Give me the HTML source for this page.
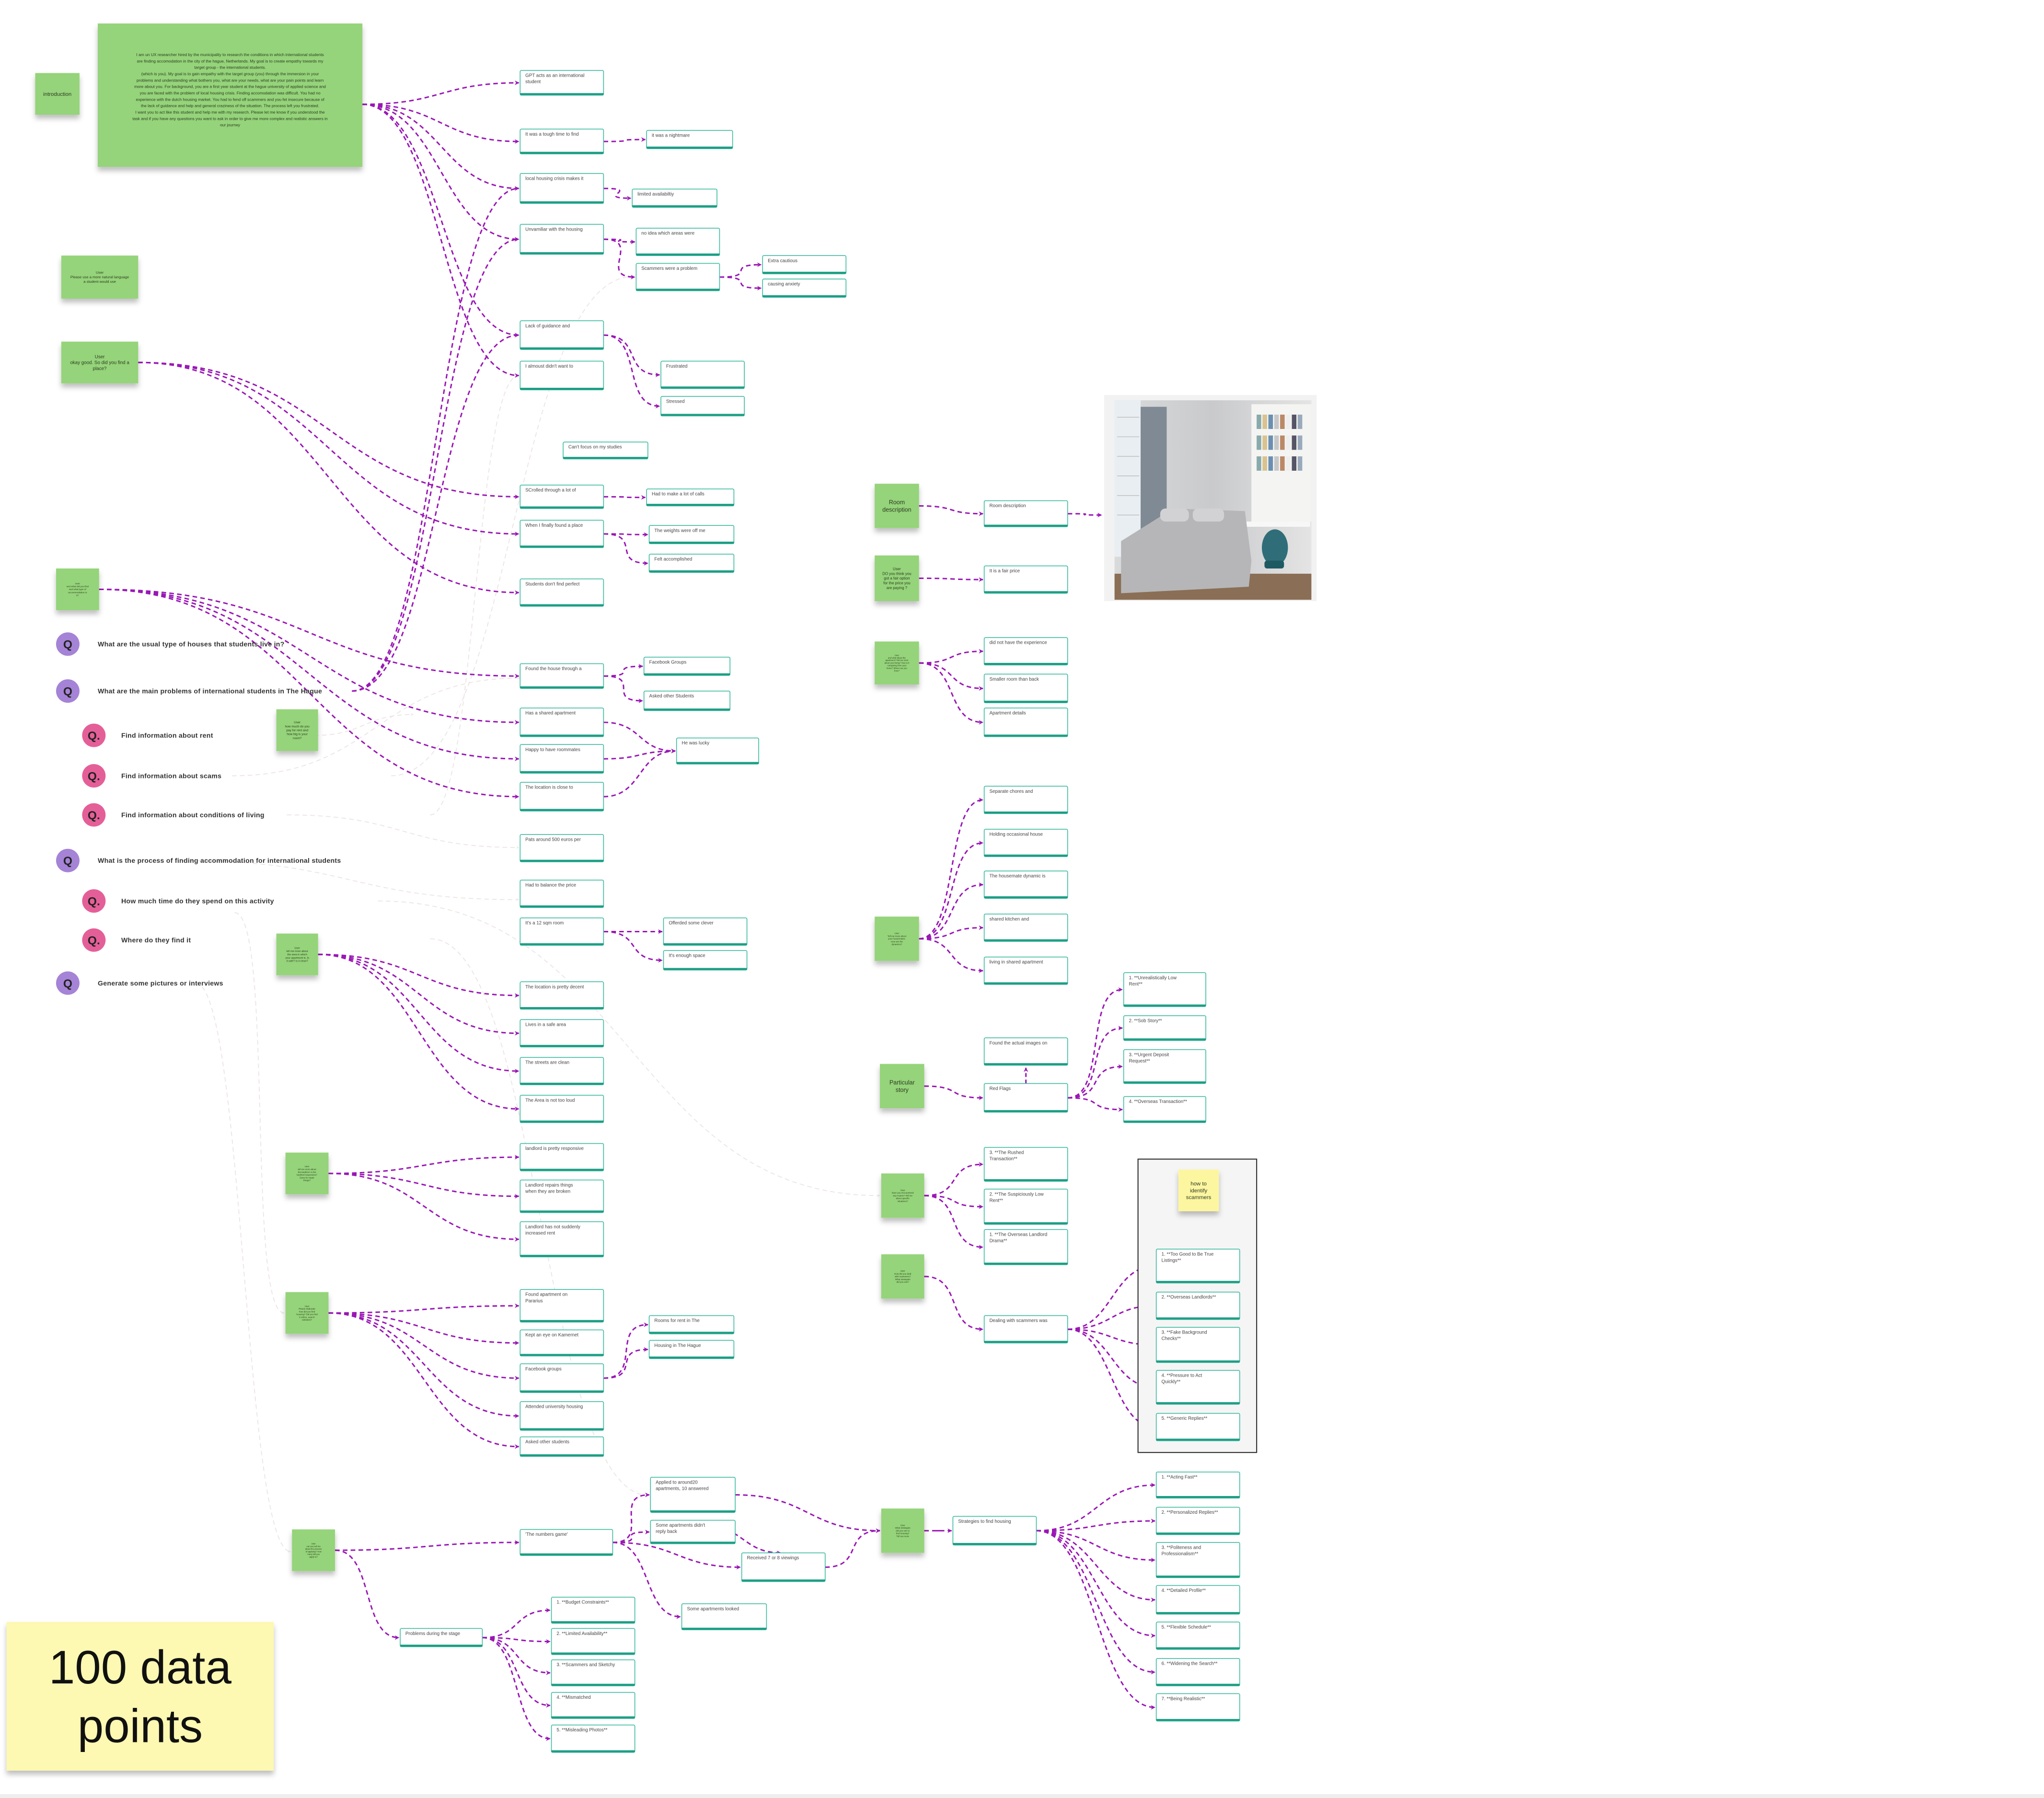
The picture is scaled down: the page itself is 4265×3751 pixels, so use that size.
<!DOCTYPE html>
<html><head><meta charset="utf-8">
<style>
html,body{margin:0;padding:0;background:#fff;}
svg{display:block;}
text{font-family:"Liberation Sans",sans-serif;}
</style></head>
<body>
<svg id="s" xmlns="http://www.w3.org/2000/svg" width="4265" height="3751" viewBox="0 0 1568 1379">
<defs>
<marker id="a" viewBox="0 0 10 10" refX="9" refY="5" markerWidth="3.2" markerHeight="3.2" orient="auto" markerUnits="strokeWidth"><path d="M0,0 L10,5 L0,10 L3,5z" fill="#9a17b5"/></marker>
<marker id="g" viewBox="0 0 10 10" refX="9" refY="5" markerWidth="3.2" markerHeight="3.2" orient="auto" markerUnits="strokeWidth"><path d="M0,0 L10,5 L0,10 L3,5z" fill="#eee8e6"/></marker>
<filter id="sh" x="-20%" y="-20%" width="140%" height="160%"><feDropShadow dx="0" dy="3" stdDeviation="2" flood-color="#000" flood-opacity="0.25"/></filter>
<linearGradient id="wall" x1="0" y1="0" x2="1" y2="0"><stop offset="0" stop-color="#d9dadb"/><stop offset="0.5" stop-color="#c9cacc"/><stop offset="1" stop-color="#e4e4e4"/></linearGradient>
</defs>
<rect x="0" y="1376" width="1568" height="3" fill="#eee"/>
<g id="faint"></g>
<g id="lines"></g>
<g id="nodes"></g>
</svg>
<script>
var NS="http://www.w3.org/2000/svg";
function el(p,t,a,txt){var e=document.createElementNS(NS,t);for(var k in a)e.setAttribute(k,a[k]);if(txt!=null)e.textContent=txt;document.getElementById(p).appendChild(e);return e;}
var B={};
function box(id,x,y,w,h,t){B[id]=[x,y,w,h];
 el('nodes','rect',{x:x,y:y,width:w,height:h,rx:1,fill:'#fff',stroke:'#3dbba0','stroke-width':0.6});
 el('nodes','rect',{x:x,y:y+h-1.6,width:w,height:1.6,fill:'#1e9e85'});
 var lines=t.split('|');lines.forEach(function(l,i){el('nodes','text',{x:x+4,y:y+5+i*4.8,'font-size':3.6,fill:'#444'},l);});}
function sticky(id,x,y,w,h,t,fs,col,tc){B[id]=[x,y,w,h];
 el('nodes','rect',{x:x,y:y,width:w,height:h,fill:col||'#95d47a',filter:'url(#sh)'});
 var lines=t.split('|');var lh=fs*1.25;var y0=y+h/2-(lines.length-1)*lh/2+fs*0.35;
 lines.forEach(function(l,i){el('nodes','text',{x:x+w/2,y:y0+i*lh,'font-size':fs,fill:tc||'#2d3a22','text-anchor':'middle'},l);});}
function R(id){var b=B[id];return [b[0]+b[2],b[1]+b[3]/2];}
function L(id){var b=B[id];return [b[0],b[1]+b[3]/2];}
function con(p,q,faint){var dx=Math.max(30,(q[0]-p[0])*0.5);
 el(faint?'faint':'lines','path',{d:'M'+p[0]+','+p[1]+' C'+(p[0]+dx)+','+p[1]+' '+(q[0]-dx)+','+q[1]+' '+(q[0]-1)+','+q[1],fill:'none',stroke:faint?'#ece6e4':'#9a17b5','stroke-width':faint?0.7:1.1,'stroke-dasharray':'3.5 2.5','marker-end':faint?'url(#g)':'url(#a)'});}
function C(a,b){con(R(a),L(b));}
function CS(a,list){list.forEach(function(b){C(a,b);});}

sticky('intro',27,56,34,32,'introduction',4.2);
sticky('big',75,18,203,110,'',3);
var bt=["I am un UX researcher hired by the municipality to research the conditions in which international students","are finding accomodation in the city of the hague, Netherlands. My goal is to create empathy towards my","target group - the international students.","(which is you). My goal is to gain empathy with the target group (you) through the immersion in your","problems and understanding what bothers you, what are your needs, what are your pain points and learn","more about you. For background, you are a first year student at the hague university of applied science and","you are faced with the problem of local housing crisis. Finding accomodation was difficult. You had no","experience with the dutch housing market. You had to fend off scammers and you fet insecure because of","the lack of guidance and help and general craziness of the situation. The process left you frustrated.","I want you to act like this student and help me with my research. Please let me know if you understood the","task and if you have any questions you want to ask in order to give me more complex and realistic answers in","our journey"];
bt.forEach(function(l,i){el('nodes','text',{x:176.5,y:43+i*4.9,'font-size':3.1,fill:'#2d3a22','text-anchor':'middle'},l);});
sticky('s2',47,196,59,33,'User|Please use a more natural language|a student would use',2.8);
sticky('s3',47,262,59,32,'User|okay good. So did you find a|place?',3.6);
sticky('s4',43,436,33,32,'User|and what did you find|and what type of|accommodation is|it?',1.8);
sticky('s5',212,544,32,32,'User|how much do you|pay for rent and|how big is your|room?',2.4);
sticky('s6',212,716,32,32,'User|tell me more about|the area in which|your apartment is. Is|it safe? Is it clean?',2.0);
sticky('s7',219,884,33,32,'User|tell me more about|the landlord. Is the|landlord responsive?|Does he repair|things?',1.7);
sticky('s8',219,991,33,32,'User|Please elaborate|how did you find|housing? Did you find|it online, search|websites?',1.7);
sticky('s9',224,1173,33,32,'User|can you tell me|about the process|of applying? How|many did you|apply to?',1.6);
sticky('rd',671,371,34,34,'Room|description',4.6);
sticky('fp',671,426,34,35,'User|DO you think you|got a fair option|for the price you|are paying ?',2.9);
sticky('s12',671,492,34,33,'User|and what about the|apartment? Tell me more|about your living? How is it|comparing from your|home? Where are you|from?',1.6);
sticky('s13',671,703,34,34,'User|Tell me more about|your housemates.|How are the|dynamics?',1.7);
sticky('ps',675,816,34,34,'Particular|story',4.6);
sticky('s15',676,900,33,34,'User|have you encountered|any scams? Tell me|about specific|situations?',1.7);
sticky('s16',676,962,33,34,'User|How did you deal|with scammers?|What strategies|did you use?',1.7);
sticky('s17',676,1157,33,34,'User|What strategies|did you use to|find housing?|Tell me more',1.7);
sticky('big100',5,1244,205,114,'100 data|points',36,'#fdf8b2','#111');
el('nodes','rect',{x:873,y:889,width:91,height:225,fill:'#f5f5f5',stroke:'#333','stroke-width':0.8});
sticky('how',904,897,31,32,'how to|identify|scammers',4.2,'#fdf6a0');

(function(){var g='nodes';
el(g,'rect',{x:847,y:303,width:163,height:158,fill:'#f2f2f2'});
el(g,'rect',{x:855,y:307,width:151,height:153,fill:'url(#wall)'});
el(g,'rect',{x:855,y:307,width:20,height:120,fill:'#e9eef2'});
el(g,'rect',{x:875,y:312,width:20,height:120,fill:'#7f8a94'});
for(var i=0;i<6;i++)el(g,'line',{x1:857,y1:320+i*15,x2:874,y2:320+i*15,stroke:'#bbb','stroke-width':0.5});
el(g,'rect',{x:960,y:310,width:46,height:90,fill:'#f4f4f2'});
for(var j=0;j<3;j++){for(var k=0;k<8;k++)el(g,'rect',{x:964+k*4.5,y:318+j*16,width:3.5,height:11,fill:['#8aa','#d9c28e','#6b8fb0','#c7c7c7','#b86','#eee','#556','#9ab'][k]});}
el(g,'rect',{x:955,y:400,width:50,height:4,fill:'#f7f7f7'});
el(g,'polygon',{points:'855,440 1006,440 1006,460 855,460',fill:'#8a6e55'});
el(g,'polygon',{points:'860,415 900,390 955,392 960,430 958,450 860,455',fill:'#b6b6b8'});
el(g,'rect',{x:890,y:390,width:22,height:10,rx:4,fill:'#d2d2d4'});
el(g,'rect',{x:915,y:390,width:24,height:10,rx:4,fill:'#d2d2d4'});
el(g,'ellipse',{cx:978,cy:420,rx:10,ry:14,fill:'#2f6e78'});
el(g,'rect',{x:970,y:430,width:15,height:6,rx:2,fill:'#1f5a63'});
})();

box('gpt',399,54,64,19,'GPT acts as an international|student');
box('tough',399,99,64,19,'It was a tough time to find');
box('local',399,133,64,23,'local housing crisis makes it');
box('unv',399,172,64,23,'Unvamiliar with the housing');
box('lack',399,246,64,22,'Lack of guidance and');
box('alm',399,277,64,22,"I almoust didn't want to");
box('scr',399,372,64,18,'SCrolled through a lot of');
box('fin',399,399,64,21,'When I finally found a place');
box('stu',399,444,64,21,"Students don't find perfect");
box('fh',399,509,64,19,'Found the house through a');
box('sha',399,543,64,22,'Has a shared apartment');
box('hap',399,571,64,22,'Happy to have roommates');
box('loc',399,600,64,22,'The location is close to');
box('pat',399,640,64,21,'Pats around 500 euros per');
box('bal',399,675,64,21,'Had to balance the price');
box('sqm',399,704,64,21,"It's a 12 sqm room");
box('dec',399,753,64,21,'The location is pretty decent');
box('saf',399,782,64,21,'Lives in a safe area');
box('cle',399,811,64,21,'The streets are clean');
box('lou',399,840,64,21,'The Area is not too loud');
box('res',399,877,64,21,'landlord is pretty responsive');
box('rep',399,905,64,25,'Landlord repairs things|when they are broken');
box('inc',399,937,64,27,'Landlord has not suddenly|increased rent');
box('par',399,989,64,25,'Found apartment on|Pararius');
box('kam',399,1020,64,20,'Kept an eye on Kamernet');
box('fbg',399,1046,64,22,'Facebook groups');
box('att',399,1075,64,22,'Attended university housing');
box('ask',399,1102,64,15,'Asked other students');
box('num',399,1173,71,20,"'The numbers game'");
box('nig',496,100,66,14,'it was a nightmare');
box('lim',485,145,65,14,'limited availabiltiy');
box('noi',488,175,64,21,'no idea which areas were');
box('sca',488,202,64,21,'Scammers were a problem');
box('ext',585,196,64,14,'Extra cautious');
box('anx',585,214,64,14,'causing anxiety');
box('fru',507,277,64,21,'Frustrated');
box('str',507,304,64,15,'Stressed');
box('cant',432,339,65,13,"Can't focus on my studies");
box('cal',496,375,67,13,'Had to make a lot of calls');
box('wei',498,403,65,14,'The weights were off me');
box('acc',498,425,65,14,'Felt accomplished');
box('fbG',494,504,66,14,'Facebook Groups');
box('aos',494,530,66,15,'Asked other Students');
box('luc',519,566,63,20,'He was lucky');
box('off',509,704,64,21,'Offerded some clever');
box('eno',509,729,64,15,"It's enough space");
box('rft',498,1009,65,14,'Rooms for rent in The');
box('hth',498,1028,65,14,'Housing in The Hague');
box('app',499,1133,65,27,'Applied to around20|apartments, 10 answered');
box('sad',499,1166,65,18,"Some apartments didn't|reply back");
box('rec',569,1191,64,22,'Received 7 or 8 viewings');
box('slo',523,1230,65,20,'Some apartments looked');
box('prb',307,1249,63,14,'Problems during the stage');
box('p1',423,1225,64,20,'1. **Budget Constraints**');
box('p2',423,1249,64,20,'2. **Limited Availability**');
box('p3',423,1273,64,20,'3. **Scammers and Sketchy');
box('p4',423,1298,64,20,'4. **Mismatched');
box('p5',423,1323,64,21,'5. **Misleading Photos**');
box('rdb',755,384,64,20,'Room description');
box('fpb',755,434,64,21,'It is a fair price');
box('dnh',755,489,64,21,'did not have the experience');
box('smr',755,517,64,22,'Smaller room than back');
box('apd',755,543,64,22,'Apartment details');
box('sep',755,603,64,21,'Separate chores and');
box('hol',755,636,64,21,'Holding occasional house');
box('hdy',755,668,64,21,'The housemate dynamic is');
box('ski',755,701,64,21,'shared kitchen and');
box('lsa',755,734,64,21,'living in shared apartment');
box('fai',755,796,64,21,'Found the actual images on');
box('red',755,831,64,22,'Red Flags');
box('c3',755,880,64,26,'3. **The Rushed|Transaction**');
box('c2',755,912,64,27,'2. **The Suspiciously Low|Rent**');
box('c1',755,943,64,27,'1. **The Overseas Landlord|Drama**');
box('dea',755,1009,64,21,'Dealing with scammers was');
box('stg',731,1163,64,22,'Strategies to find housing');
box('d1',862,746,63,26,'1. **Unrealistically Low|Rent**');
box('d2',862,779,63,19,'2. **Sob Story**');
box('d3',862,805,63,26,'3. **Urgent Deposit|Request**');
box('d4',862,841,63,20,'4. **Overseas Transaction**');
box('e1',887,958,64,26,'1. **Too Good to Be True|Listings**');
box('e2',887,991,64,21,'2. **Overseas Landlords**');
box('e3',887,1018,64,27,'3. **Fake Background|Checks**');
box('e4',887,1051,64,26,'4. **Pressure to Act|Quickly**');
box('e5',887,1084,64,21,'5. **Generic Replies**');
box('f1',887,1129,64,20,'1. **Acting Fast**');
box('f2',887,1156,64,21,'2. **Personalized Replies**');
box('f3',887,1183,64,27,'3. **Politeness and|Professionalism**');
box('f4',887,1216,64,22,'4. **Detailed Profile**');
box('f5',887,1244,64,21,'5. **Flexible Schedule**');
box('f6',887,1272,64,21,'6. **Widening the Search**');
box('f7',887,1299,64,21,'7. **Being Realistic**');

var Q=[[52,494,'p','What are the usual type of houses that students live in?'],[52,530,'p','What are the main problems of international students in The Hague'],[72,564,'k','Find information about rent'],[72,595,'k','Find information about scams'],[72,625,'k','Find information about conditions of living'],[52,660,'p','What is the process of finding accommodation for international students'],[72,691,'k','How much time do they spend on this activity'],[72,721,'k','Where do they find it'],[52,754,'p','Generate some pictures or interviews']];
Q.forEach(function(q){el('nodes','circle',{cx:q[0],cy:q[1],r:9,fill:q[2]=='p'?'#a583d6':'#e45f98'});
 el('nodes','text',{x:q[0],y:q[1]+3.3,'font-size':9,'font-weight':'bold',fill:'#222','text-anchor':'middle'},q[2]=='p'?'Q':'Q.');
 el('nodes','text',{x:q[0]+(q[2]=='p'?23:21),y:q[1]+1.8,'font-size':5.2,'font-weight':'bold',fill:'#333','letter-spacing':0.1},q[3]);});

con([241,564],[318,548],1);con([178,595],[400,520],1);con([220,625],[399,650],1);con([140,660],[399,690],1);
con([300,595],[487,212],1);con([330,625],[399,288],1);con([290,691],[676,917],1);
con([150,754],[224,1190],1);con([180,700],[219,1007],1);con([330,720],[499,1147],1);

var BR=[278,80];
['gpt','tough','local','unv','lack','alm'].forEach(function(b){con(BR,L(b));});
var QM=[270,530];['local','unv','lack'].forEach(function(b){con(QM,L(b));});
C('tough','nig');C('local','lim');CS('unv',['noi','sca']);CS('sca',['ext','anx']);CS('lack',['fru','str']);
var S3=R('s3');['scr','fin','stu'].forEach(function(b){con(S3,L(b));});
var S4=R('s4');['fh','sha','hap','loc'].forEach(function(b){con(S4,L(b));});
C('scr','cal');CS('fin',['wei','acc']);CS('fh',['fbG','aos']);CS('sha',['luc']);C('hap','luc');C('loc','luc');
CS('sqm',['off','eno']);
CS('s6',['dec','saf','cle','lou']);CS('s7',['res','rep','inc']);
CS('s8',['par','kam','fbg','att','ask']);CS('fbg',['rft','hth']);
C('s9','num');con(R('s9'),L('prb'));
CS('num',['app','sad','rec','slo']);CS('prb',['p1','p2','p3','p4','p5']);
con(R('app'),L('s17'));con(R('rec'),L('s17'));con([540,1170],[600,1191]);
C('s17','stg');CS('stg',['f1','f2','f3','f4','f5','f6','f7']);
C('rd','rdb');con(R('rdb'),[846,395]);C('fp','fpb');
CS('s12',['dnh','smr','apd']);CS('s13',['sep','hol','hdy','ski','lsa']);
C('ps','red');CS('red',['d1','d2','d3','d4']);
el('lines','path',{d:'M787,831 L787,819',fill:'none',stroke:'#9a17b5','stroke-width':1.1,'stroke-dasharray':'3 2','marker-end':'url(#a)'});
CS('s15',['c3','c2','c1']);C('s16','dea');CS('dea',['e1','e2','e3','e4','e5']);
</script>
</body></html>
